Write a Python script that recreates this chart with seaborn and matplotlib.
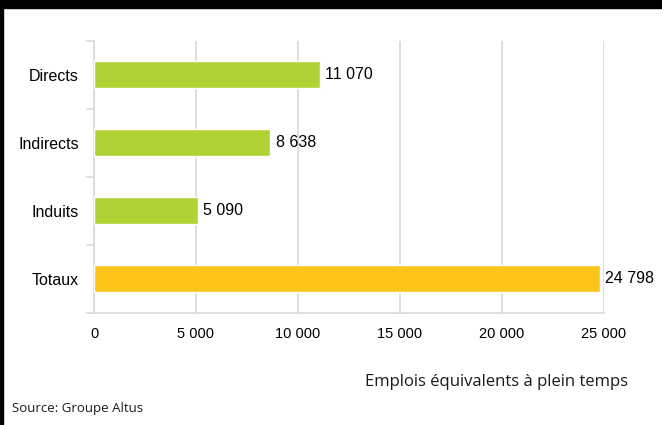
import matplotlib.pyplot as plt
import seaborn as sns
import pandas as pd
from matplotlib.patches import Rectangle
from matplotlib.ticker import FuncFormatter, FixedLocator

categories = ["Directs", "Indirects", "Induits", "Totaux"]
emplois = [11070, 8638, 5090, 24798]
bar_colors = ["#B1D235", "#B1D235", "#B1D235", "#FCC419"]

df = pd.DataFrame({"categorie": categories, "emplois": emplois})

sns.set_theme(style="white")
plt.rcParams["font.family"] = ["Liberation Sans", "DejaVu Sans"]

fig = plt.figure(figsize=(6.62, 4.25), dpi=100)
ax = fig.add_axes([0.142, 0.264, 0.770, 0.640])

sns.barplot(data=df, x="emplois", y="categorie", hue="categorie",
            palette=bar_colors, legend=False, width=0.4, ax=ax,
            saturation=1, zorder=3)

ax.set_xlim(0, 25000)
ax.set_ylim(3.5, -0.5)
ax.set_xticks(range(0, 25001, 5000))
ax.xaxis.set_major_formatter(FuncFormatter(lambda v, p: f"{int(v):,}".replace(",", " ")))
ax.grid(axis="x", color="#D9D9D9", linewidth=1.2, zorder=0)
ax.grid(axis="y", visible=False)

for s in ["top", "right"]:
    ax.spines[s].set_visible(False)
for s in ["left", "bottom"]:
    ax.spines[s].set_color("#D9D9D9")
    ax.spines[s].set_linewidth(1.2)

ax.yaxis.set_minor_locator(FixedLocator([-0.5, 0.5, 1.5, 2.5, 3.5]))
ax.tick_params(axis="y", which="major", length=0, pad=11, labelsize=11.5, labelcolor="#000000")
ax.tick_params(axis="y", which="minor", length=6, color="#D9D9D9", width=1.2, left=True)
ax.tick_params(axis="x", length=0, pad=10, labelsize=10.5, labelcolor="#000000")

for i, v in enumerate(emplois):
    ax.annotate(f"{v:,}".replace(",", " "), xy=(v, i), xytext=(4, 0),
                textcoords="offset points", va="center", ha="left",
                fontsize=11.5, color="#000000")

ax.set_xlabel("")
ax.set_ylabel("")

fig.text(0.948, 0.101, "Emplois équivalents à plein temps", ha="right", va="center",
         fontsize=12, family=["Open Sans", "DejaVu Sans"], color="#1a1a1a")
fig.text(0.018, 0.038, "Source: Groupe Altus", ha="left", va="center",
         fontsize=9.5, family=["Open Sans", "DejaVu Sans"], color="#1a1a1a")

# cadre : bande noire en haut et trait a gauche
fig.patches.append(Rectangle((0, 1 - 8 / 425), 1, 8 / 425, transform=fig.transFigure,
                             color="black", zorder=10))
fig.patches.append(Rectangle((0, 0), 2.5 / 662, 1, transform=fig.transFigure,
                             color="black", zorder=10))

fig.savefig("out.png", dpi=100)
